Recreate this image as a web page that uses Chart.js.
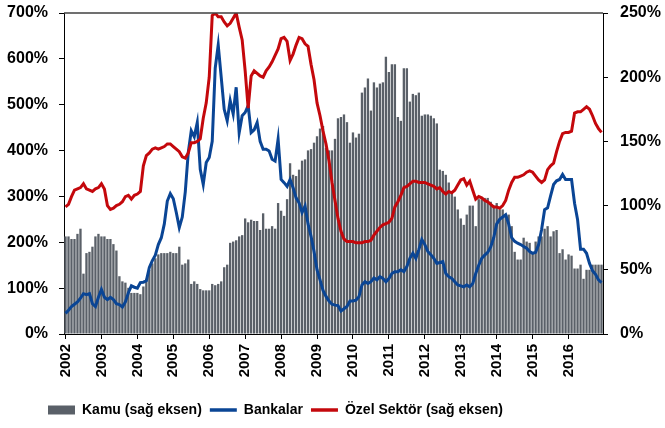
<!DOCTYPE html>
<html>
<head>
<meta charset="utf-8">
<script src="https://cdn.jsdelivr.net/npm/chart.js@4.4.1/dist/chart.umd.min.js"></script>
<style>
  body { margin: 0; background: #fff; }
  canvas { display: block; }
</style>
</head>
<body>
<canvas id="grafico" width="665" height="428"></canvas>
<script>
// Years on the axis (monthly data, Jan 2002 - Dec 2016)
const years = [2002, 2003, 2004, 2005, 2006, 2007, 2008, 2009, 2010, 2011, 2012, 2013, 2014, 2015, 2016];

// Kamu (right axis, %)
const kamu = [
  76, 76, 74, 74, 78, 82, 47, 63, 64, 68, 76, 78,
  76, 76, 74, 74, 70, 65, 45, 41, 40, 36, 32, 32,
  32, 31, 37, 43, 50, 55, 59, 62, 63, 63, 63, 64,
  63, 63, 68, 54, 55, 58, 39, 41, 39, 35, 34, 34,
  34, 39, 38, 39, 41, 52, 54, 71, 72, 73, 76, 77,
  90, 87, 89, 88, 88, 81, 94, 82, 82, 84, 82, 102,
  96, 92, 105, 133, 124, 123, 128, 135, 136, 143, 144, 149,
  154, 160, 162, 145, 143, 143, 152, 168, 169, 171, 165, 149,
  157, 153, 156, 188, 192, 199, 174, 196, 192, 195, 196, 216,
  204, 210, 210, 169, 166, 207, 207, 181, 187, 186, 188, 170,
  171, 171, 170, 168, 164, 128, 127, 124, 118, 111, 107, 97,
  90, 85, 93, 100, 100, 84, 105, 105, 106, 106, 103, 100,
  102, 97, 97, 93, 93, 84, 64, 58, 58, 75, 72, 71,
  63, 72, 76, 76, 82, 84, 76, 80, 81, 63, 66, 58,
  62, 61, 51, 51, 54, 43, 50, 50, 54, 54, 54, 54
];

// Bankalar (left axis, %)
const bankalar = [
  45, 52, 60, 65, 70, 78, 88, 86, 88, 66, 60, 80,
  97, 80, 75, 80, 75, 66, 64, 59, 70, 90, 105, 102,
  100, 112, 113, 116, 145, 160, 172, 195, 210, 240, 290, 306,
  295, 265, 232, 255, 310, 396, 443, 430, 461, 359, 326, 374,
  385, 420, 580, 630, 560, 490, 465, 509, 480, 538, 439, 476,
  483, 498, 439, 445, 461, 420, 403, 403, 399, 381, 377, 425,
  337, 330, 322, 337, 319, 297, 286, 265, 279, 240, 213, 180,
  140, 118, 95, 82, 72, 65, 63, 62, 50, 55, 60, 72,
  72, 74, 81, 107, 114, 110, 114, 122, 118, 125, 121, 114,
  121, 132, 136, 136, 140, 136, 147, 165, 176, 165, 184, 206,
  195, 180, 173, 165, 154, 156, 158, 132, 125, 121, 114, 107,
  105, 103, 107, 103, 110, 132, 150, 165, 172, 178, 190, 210,
  240, 250, 255, 260, 240, 210, 202, 198, 195, 191, 187, 180,
  176, 178, 195, 228, 271, 275, 301, 326, 334, 337, 348, 337,
  337, 337, 285, 250, 185, 185, 176, 154, 138, 130, 118, 112
];

// Özel Sektör (right axis, %)
const ozelSektor = [
  99, 101, 107, 112, 113, 114, 117, 113, 112, 111, 113, 114,
  117, 113, 100, 97, 98, 100, 101, 103, 107, 108, 105, 108,
  109, 111, 131, 139, 141, 144, 145, 144, 145, 146, 148, 148,
  146, 144, 142, 138, 137, 141, 149, 149, 150, 152, 168, 180,
  200, 248, 250, 247, 247, 243, 240, 242, 246, 250, 239, 229,
  205, 176, 201, 205, 203, 201, 200, 205, 208, 212, 217, 222,
  230, 231, 228, 213, 218, 225, 231, 230, 226, 224, 210, 198,
  180, 170, 158, 148, 135, 118, 104, 90, 80, 74, 72, 72,
  72, 71, 71, 71, 72, 72, 73, 77, 80, 83, 85, 86,
  87, 90, 99, 103, 108, 114, 115, 117, 119, 119, 118, 118,
  118, 117, 116, 115, 113, 114, 111, 109, 111, 110, 112, 116,
  120, 121, 116, 119, 112, 105, 107, 106, 104, 103, 101, 99,
  99, 98, 100, 104, 112, 118, 122, 122, 123, 124, 126, 127,
  126, 123, 120, 118, 120, 128, 131, 133, 142, 150, 156, 157,
  157, 158, 172, 173, 173, 175, 177, 175, 170, 164, 160, 157
];

const seriesNames = ['Kamu (sağ eksen)', 'Bankalar', 'Özel Sektör (sağ eksen)'];
const colors = ['#5a6068', '#0a4595', '#c4080c'];

// one category per month
const labels = [];
years.forEach(y => {
  for (let m = 1; m <= 12; m++) labels.push(y + '-' + m);
});

const fontFamily = "'Liberation Sans', Arial, sans-serif";

// top frame line, vertical year labels, legend shifted to the left
const framePlugin = {
  id: 'frame',
  afterLayout(chart) {
    chart.legend.left = 40;
  },
  afterDraw(chart) {
    const { ctx, chartArea } = chart;
    const xs = chart.scales.x;
    ctx.save();
    ctx.strokeStyle = '#404040';
    ctx.lineWidth = 1.5;
    ctx.beginPath();
    ctx.moveTo(chartArea.left, chartArea.top);
    ctx.lineTo(chartArea.right, chartArea.top);
    ctx.stroke();

    // year labels, read bottom to top, under each year tick
    ctx.fillStyle = '#000';
    ctx.font = 'bold 15px ' + fontFamily;
    ctx.textAlign = 'right';
    ctx.textBaseline = 'middle';
    xs.ticks.forEach(t => {
      if (t.label === null || t.label === undefined) return;
      ctx.save();
      ctx.translate(xs.getPixelForValue(t.value), xs.top + 10);
      ctx.rotate(-Math.PI / 2);
      ctx.fillText(t.label, 0, 0);
      ctx.restore();
    });
    ctx.restore();
  }
};

// fixed axis sizes, without the extra top padding from ticks.padding
function fixWidth(w) {
  return function(scale) {
    scale.width = w;
    scale.paddingTop = 9;
    scale.paddingBottom = 9;
  };
}

new Chart(document.getElementById('grafico'), {
  data: {
    labels: labels,
    datasets: [
      {
        type: 'line',
        label: seriesNames[2],
        data: ozelSektor,
        yAxisID: 'y1',
        borderColor: colors[2],
        borderWidth: 3,
        pointRadius: 0,
        tension: 0,
        order: 1
      },
      {
        type: 'line',
        label: seriesNames[1],
        data: bankalar,
        yAxisID: 'y',
        borderColor: colors[1],
        borderWidth: 3,
        pointRadius: 0,
        tension: 0,
        order: 2
      },
      {
        type: 'bar',
        label: seriesNames[0],
        data: kamu,
        yAxisID: 'y1',
        backgroundColor: colors[0],
        barPercentage: 0.78,
        categoryPercentage: 1,
        order: 3
      }
    ]
  },
  options: {
    responsive: false,
    devicePixelRatio: 1,
    animation: false,
    layout: { padding: { top: 13, bottom: 1 } },
    plugins: {
      tooltip: { enabled: false },
      legend: {
        position: 'bottom',
        align: 'start',
        labels: {
          usePointStyle: true,
          pointStyleWidth: 27,
          boxHeight: 9,
          padding: 8,
          color: '#000',
          font: { family: fontFamily, size: 14, weight: 'bold' },
          generateLabels: function() {
            return [
              { text: seriesNames[0], fillStyle: colors[0], strokeStyle: colors[0], lineWidth: 0, pointStyle: 'rect', fontColor: '#000' },
              { text: seriesNames[1], fillStyle: colors[1], strokeStyle: colors[1], lineWidth: 3.5, pointStyle: 'line', fontColor: '#000' },
              { text: seriesNames[2], fillStyle: colors[2], strokeStyle: colors[2], lineWidth: 3.5, pointStyle: 'line', fontColor: '#000' }
            ];
          }
        }
      }
    },
    scales: {
      x: {
        offset: true,
        grid: { drawOnChartArea: false, tickLength: 5, color: '#000', offset: false },
        border: { color: '#000' },
        afterFit: function(scale) {
          scale.height = 61;
          scale.paddingLeft = 0;
          scale.paddingRight = 0;
        },
        ticks: {
          autoSkip: false,
          maxRotation: 0,
          color: 'rgba(0,0,0,0)',
          font: { family: fontFamily, size: 15, weight: 'bold' },
          callback: function(value, index) {
            return index % 12 === 0 ? String(years[index / 12]) : null;
          }
        }
      },
      y: {
        position: 'left',
        min: 0,
        max: 700,
        grid: { drawOnChartArea: false, tickLength: 5, color: '#000' },
        border: { color: '#000' },
        afterFit: fixWidth(64),
        ticks: {
          stepSize: 100,
          padding: 11,
          color: '#000',
          font: { family: fontFamily, size: 16, weight: 'bold' },
          callback: v => v + '%'
        }
      },
      y1: {
        position: 'right',
        min: 0,
        max: 250,
        grid: { drawOnChartArea: false, tickLength: 5, color: '#000' },
        border: { color: '#000' },
        afterFit: fixWidth(62),
        ticks: {
          stepSize: 50,
          padding: 12,
          color: '#000',
          font: { family: fontFamily, size: 16, weight: 'bold' },
          callback: v => v + '%'
        }
      }
    }
  },
  plugins: [framePlugin]
});
</script>
</body>
</html>
